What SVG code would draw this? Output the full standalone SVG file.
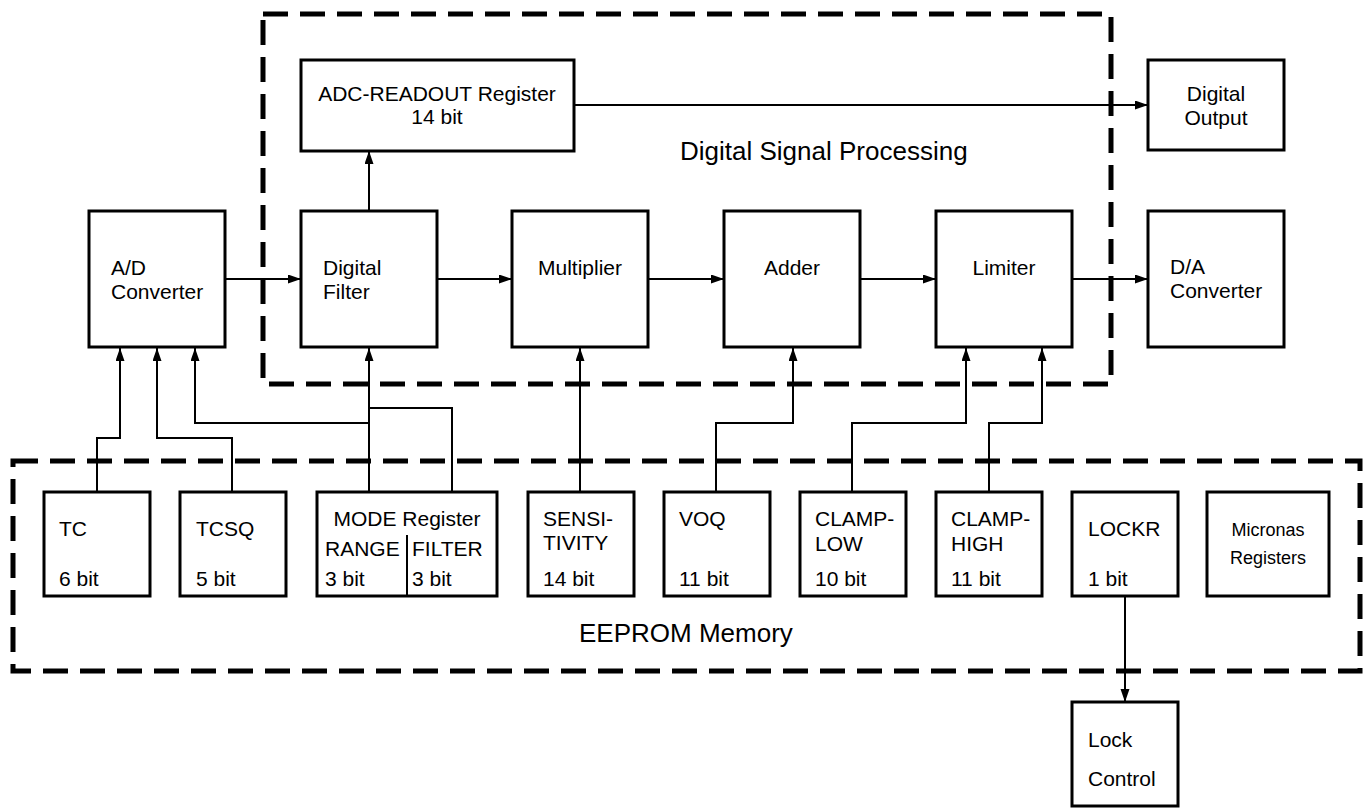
<svg xmlns="http://www.w3.org/2000/svg" width="1369" height="810" viewBox="0 0 1369 810">
<style>
.box{fill:#fff;stroke:#000;stroke-width:3}
.dash{fill:none;stroke:#000;stroke-width:5;stroke-dasharray:25 12}
.t{font-family:"Liberation Sans",Arial,Helvetica,sans-serif;font-size:21px;fill:#000}
.c{text-anchor:middle}
.big{font-family:"Liberation Sans",Arial,Helvetica,sans-serif;font-size:26px;fill:#000}
.sm{font-family:"Liberation Sans",Arial,Helvetica,sans-serif;font-size:18px;fill:#000;text-anchor:middle}
.w{fill:none;stroke:#000;stroke-width:2}
</style>
<defs>
<marker id="ah" markerUnits="userSpaceOnUse" markerWidth="14" markerHeight="10" refX="13" refY="4.5" orient="auto">
<path d="M0,0 L13,4.5 L0,9 z" fill="#000"/>
</marker>
</defs>
<rect width="1369" height="810" fill="#fff"/>

<g id="dsp-region">
<rect class="dash" x="263" y="14" width="848" height="370"/>
<text class="big" x="680" y="160">Digital Signal Processing</text>
</g>
<g id="eeprom-region">
<rect class="dash" x="13" y="461" width="1347" height="210"/>
<text class="big" x="579" y="642">EEPROM Memory</text>
</g>

<g id="connectors">
<path class="w" d="M225,279 H301" marker-end="url(#ah)"/>
<path class="w" d="M437,279 H512" marker-end="url(#ah)"/>
<path class="w" d="M648,279 H724" marker-end="url(#ah)"/>
<path class="w" d="M860,279 H936" marker-end="url(#ah)"/>
<path class="w" d="M1072,279 H1148" marker-end="url(#ah)"/>
<path class="w" d="M574,105 H1148" marker-end="url(#ah)"/>
<path class="w" d="M369,211 V151" marker-end="url(#ah)"/>
<path class="w" d="M97,492 V438 H120 V348" marker-end="url(#ah)"/>
<path class="w" d="M232,492 V438 H157 V348" marker-end="url(#ah)"/>
<path class="w" d="M369,408 V423 M369,492 V423 H195 V348" marker-end="url(#ah)"/>
<path class="w" d="M452,492 V408 H369 V348" marker-end="url(#ah)"/>
<path class="w" d="M580,492 V348" marker-end="url(#ah)"/>
<path class="w" d="M716,492 V423 H793 V348" marker-end="url(#ah)"/>
<path class="w" d="M852,492 V423 H966 V348" marker-end="url(#ah)"/>
<path class="w" d="M989,492 V423 H1042 V348" marker-end="url(#ah)"/>
<path class="w" d="M1125,597 V702" marker-end="url(#ah)"/>
</g>

<g id="adc-readout">
<rect class="box" x="301" y="60" width="273" height="91"/>
<text class="t c" x="437" y="101">ADC-READOUT Register</text>
<text class="t c" x="437" y="124">14 bit</text>
</g>
<g id="digital-output">
<rect class="box" x="1148" y="60" width="136" height="90"/>
<text class="t c" x="1216" y="101">Digital</text>
<text class="t c" x="1216" y="125">Output</text>
</g>
<g id="ad-converter">
<rect class="box" x="89" y="211" width="136" height="136"/>
<text class="t" x="111" y="275">A/D</text>
<text class="t" x="111" y="299">Converter</text>
</g>
<g id="digital-filter">
<rect class="box" x="301" y="211" width="136" height="136"/>
<text class="t" x="323" y="275">Digital</text>
<text class="t" x="323" y="299">Filter</text>
</g>
<g id="multiplier">
<rect class="box" x="512" y="211" width="136" height="136"/>
<text class="t c" x="580" y="275">Multiplier</text>
</g>
<g id="adder">
<rect class="box" x="724" y="211" width="136" height="136"/>
<text class="t c" x="792" y="275">Adder</text>
</g>
<g id="limiter">
<rect class="box" x="936" y="211" width="136" height="136"/>
<text class="t c" x="1004" y="275">Limiter</text>
</g>
<g id="da-converter">
<rect class="box" x="1148" y="211" width="136" height="136"/>
<text class="t" x="1170" y="274">D/A</text>
<text class="t" x="1170" y="298">Converter</text>
</g>

<g id="tc">
<rect class="box" x="44" y="492" width="106" height="104"/>
<text class="t" x="59" y="536">TC</text>
<text class="t" x="59" y="586">6 bit</text>
</g>
<g id="tcsq">
<rect class="box" x="180" y="492" width="106" height="104"/>
<text class="t" x="196" y="536">TCSQ</text>
<text class="t" x="196" y="586">5 bit</text>
</g>
<g id="mode-register">
<rect class="box" x="317" y="492" width="180" height="104"/>
<line x1="407" y1="535" x2="407" y2="596" stroke="#000" stroke-width="2"/>
<text class="t c" x="407" y="526">MODE Register</text>
<text class="t" x="325" y="556">RANGE</text>
<text class="t" x="412" y="556">FILTER</text>
<text class="t" x="325" y="586">3 bit</text>
<text class="t" x="412" y="586">3 bit</text>
</g>
<g id="sensitivity">
<rect class="box" x="528" y="492" width="106" height="104"/>
<text class="t" x="543" y="526">SENSI-</text>
<text class="t" x="543" y="550">TIVITY</text>
<text class="t" x="543" y="586">14 bit</text>
</g>
<g id="voq">
<rect class="box" x="664" y="492" width="106" height="104"/>
<text class="t" x="679" y="526">VOQ</text>
<text class="t" x="679" y="586">11 bit</text>
</g>
<g id="clamp-low">
<rect class="box" x="800" y="492" width="106" height="104"/>
<text class="t" x="815" y="526">CLAMP-</text>
<text class="t" x="815" y="551">LOW</text>
<text class="t" x="815" y="586">10 bit</text>
</g>
<g id="clamp-high">
<rect class="box" x="936" y="492" width="106" height="104"/>
<text class="t" x="951" y="526">CLAMP-</text>
<text class="t" x="951" y="551">HIGH</text>
<text class="t" x="951" y="586">11 bit</text>
</g>
<g id="lockr">
<rect class="box" x="1072" y="492" width="106" height="104"/>
<text class="t" x="1088" y="536">LOCKR</text>
<text class="t" x="1088" y="586">1 bit</text>
</g>
<g id="micronas-registers">
<rect class="box" x="1207" y="492" width="122" height="104"/>
<text class="sm" x="1268" y="536">Micronas</text>
<text class="sm" x="1268" y="564">Registers</text>
</g>
<g id="lock-control">
<rect class="box" x="1072" y="702" width="106" height="104"/>
<text class="t" x="1088" y="747">Lock</text>
<text class="t" x="1088" y="786">Control</text>
</g>
</svg>
